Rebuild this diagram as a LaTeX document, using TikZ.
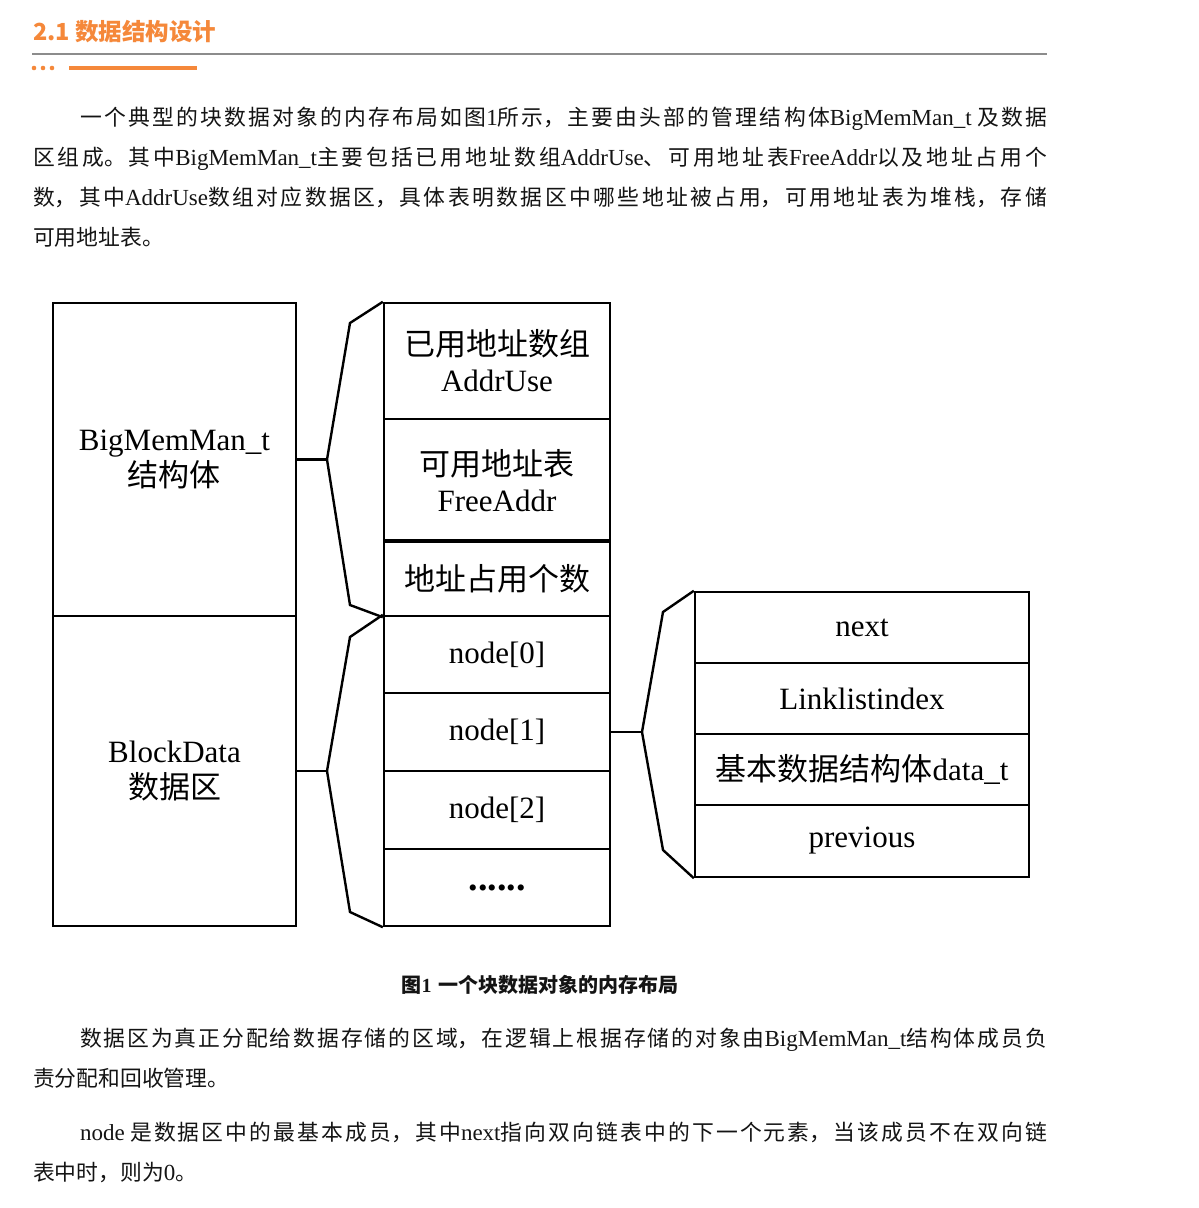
\documentclass[tikz,border=0pt]{standalone}
\usepackage{fontspec}
\setmainfont{Noto Sans CJK SC}
\newfontfamily\lat{Liberation Serif}
% break glue between CJK characters, used to justify the body lines
\XeTeXlinebreaklocale "zh"
\XeTeXlinebreakskip=0pt plus 10pt
\definecolor{accent}{RGB}{245,136,58}
\definecolor{ink}{RGB}{20,20,20}
\definecolor{rulegray}{RGB}{140,140,140}
% a full-width justified line of body text
\newcommand\bodyline[2]{\parbox[t]{#1}{\parindent=0pt\parfillskip=0pt\relax #2}}
% Latin words inside the body text
\newcommand\en[1]{{\lat\fontsize{23}{23}\selectfont #1}}
\tikzset{
  body/.style={inner sep=0pt, outer sep=0pt, anchor=base west, text=ink,
    font=\fontsize{21.8}{22}\selectfont},
  cell/.style={draw, line width=2.4pt, rectangle, inner sep=0pt, align=center,
    font=\fontsize{31}{36}\selectfont},
  bracket/.style={line width=2.4pt, line join=miter},
}
\begin{document}
\begin{tikzpicture}[x=1pt, y=-1pt]
\useasboundingbox (0,0) rectangle (1199,1208);
\fill[white] (0,0) rectangle (1199,1208);

% ---- section heading ----
\node[anchor=base west, inner sep=0pt, text=accent,
  font=\fontsize{23.5}{24}\selectfont\bfseries] (title) at (33,40) {2.1 数据结构设计};
\draw[rulegray, line width=1.3pt] (32,54) -- (1047,54);
\fill[accent] (34,68) circle (2.3);
\fill[accent] (43,68) circle (2.3);
\fill[accent] (52,68) circle (2.3);
\draw[accent, line width=4pt] (69,68) -- (197,68);

% ---- first paragraph ----
\node[body] (p1a) at (80,125.5) {\bodyline{967pt}{一个典型的块数据对象的内存布局如图\en{1}所示，主要由头部的管理结构体\en{BigMemMan\_t} 及数据}};
\node[body] (p1b) at (33,165.5) {\bodyline{1014pt}{区组成。其中\en{BigMemMan\_t}主要包括已用地址数组\en{AddrUse}、可用地址表\en{FreeAddr}以及地址占用个}};
\node[body] (p1c) at (33,205.5) {\bodyline{1014pt}{数，其中\en{AddrUse}数组对应数据区，具体表明数据区中哪些地址被占用，可用地址表为堆栈，存储}};
\node[body] (p1d) at (33,245.5) {可用地址表。};

% ---- memory layout ----
\node[cell, minimum width=243pt, minimum height=313pt] (head) at (174.5,459.5)
  {{\lat BigMemMan\_t}\\结构体};
\node[cell, minimum width=243pt, minimum height=310pt] (data) at (174.5,771)
  {{\lat BlockData}\\数据区};

\node[cell, minimum width=226pt, minimum height=116pt] (cAddr) at (497,361)
  {已用地址数组\\{\lat AddrUse}};
\node[cell, minimum width=226pt, minimum height=123pt] (cFree) at (497,480.5)
  {可用地址表\\{\lat FreeAddr}};
\node[cell, minimum width=226pt, minimum height=74pt] (cCount) at (497,579)
  {地址占用个数};
\draw[line width=4.5pt] (cCount.north west) -- (cCount.north east);
\node[cell, minimum width=226pt, minimum height=77pt] (n0) at (497,654.5) {\lat node[0]};
\node[cell, minimum width=226pt, minimum height=78pt] (n1) at (497,732) {\lat node[1]};
\node[cell, minimum width=226pt, minimum height=78pt] (n2) at (497,810) {\lat node[2]};
\node[cell, minimum width=226pt, minimum height=77pt] (nDots) at (497,887.5)
  {\lat\bfseries\fontsize{38}{38}\selectfont ......};

\node[cell, minimum width=334pt, minimum height=71pt] (rNext) at (862,627.5) {\lat next};
\node[cell, minimum width=334pt, minimum height=71pt] (rIdx) at (862,698.5) {\lat Linklistindex};
\node[cell, minimum width=334pt, minimum height=71pt] (rData) at (862,769.5)
  {基本数据结构体{\lat data\_t}};
\node[cell, minimum width=334pt, minimum height=72pt] (rPrev) at (862,841) {\lat previous};

% braces joining each block to its members
\coordinate (b1apex) at (327,459.5);
\coordinate (b1top) at (350,323);
\coordinate (b1bot) at (350,605);
\draw[bracket] (head.east) -- (b1apex);
\draw[bracket] (cAddr.north west) -- (b1top) -- (b1apex) -- (b1bot) -- (cCount.south west);

\coordinate (b2apex) at (327,771);
\coordinate (b2top) at (350,637);
\coordinate (b2bot) at (350,912);
\draw[bracket] (data.east) -- (b2apex);
\draw[bracket] (n0.north west) -- (b2top) -- (b2apex) -- (b2bot) -- (nDots.south west);

\coordinate (b3apex) at (642,732);
\coordinate (b3top) at (663,612);
\coordinate (b3bot) at (663,850);
\draw[bracket] (n1.east) -- (b3apex);
\draw[bracket] (rNext.north west) -- (b3top) -- (b3apex) -- (b3bot) -- (rPrev.south west);

% ---- caption ----
\node[anchor=base, inner sep=0pt, text=ink, font=\fontsize{20}{20}\selectfont\bfseries]
  (cap) at (540,992) {图{\lat\bfseries 1}\hspace{7pt}一个块数据对象的内存布局};

% ---- following paragraphs ----
\node[body] (p2a) at (80,1046) {\bodyline{967pt}{数据区为真正分配给数据存储的区域，在逻辑上根据存储的对象由\en{BigMemMan\_t}结构体成员负}};
\node[body] (p2b) at (33,1086) {责分配和回收管理。};
\node[body] (p3a) at (80,1140) {\bodyline{967pt}{\en{node} 是数据区中的最基本成员，其中\en{next}指向双向链表中的下一个元素，当该成员不在双向链}};
\node[body] (p3b) at (33,1180) {表中时，则为\en{0}。};
\end{tikzpicture}
\end{document}
